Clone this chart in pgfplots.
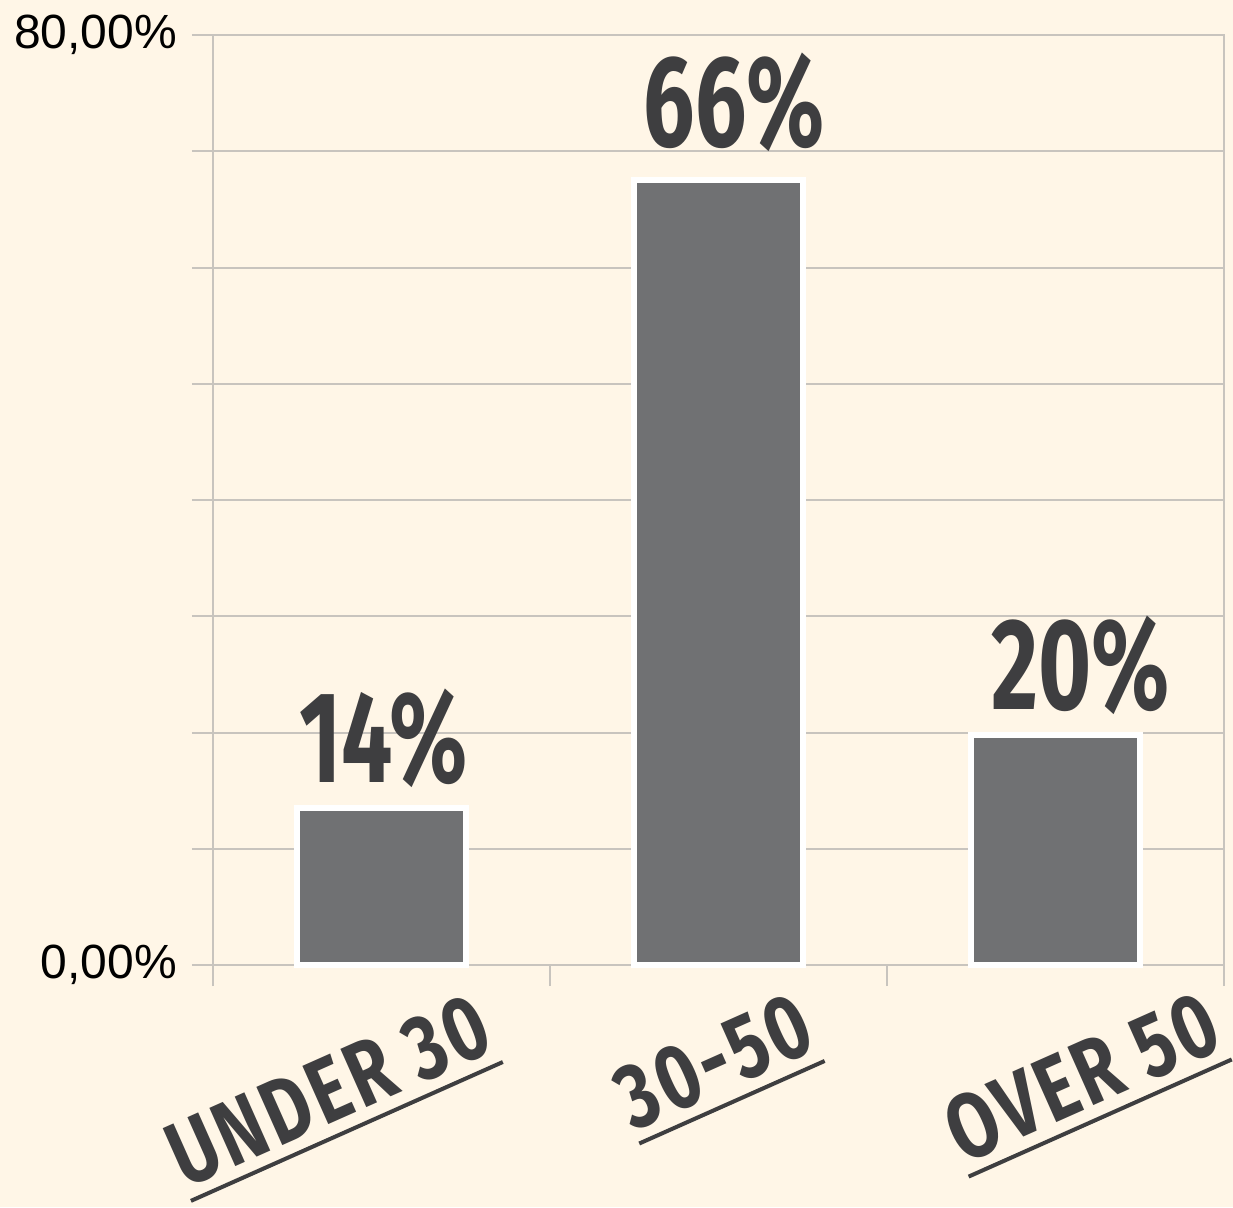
\documentclass[border=0pt]{standalone}
\usepackage{fontspec}
\setmainfont{Liberation Sans}
\newfontfamily\din[FakeStretch=0.70]{Fira Sans}
\newfontfamily\dinx[FakeStretch=0.78, LetterSpace=4]{Fira Sans}
\usepackage{pgfplots}
\pgfplotsset{compat=1.18}

\definecolor{bgcol}{HTML}{FFF6E7}
\definecolor{barcol}{HTML}{707173}
\definecolor{txtcol}{HTML}{3E3E40}
\definecolor{gridcol}{HTML}{C8C4BE}

% underlined label, the rule hangs below the baseline
\newcommand\ulbox[1]{\vtop{\hbox{#1}\kern5pt\hrule height 2pt}}

\begin{document}
\begin{tikzpicture}
\fill[bgcol] (-106.5pt,-121pt) rectangle (510pt,482.5pt);
\useasboundingbox (-106.5pt,-121pt) rectangle (510pt,482.5pt);
\begin{axis}[
  at={(0,0)}, anchor=south west,
  width=505.5pt, height=465pt, scale only axis,
  xmin=-0.5, xmax=2.5, ymin=0, ymax=80,
  clip=false,
  xtick={-0.5,0.5,1.5,2.5}, xticklabels={},
  ytick={0,10,...,80},
  yticklabels={{0,00\%},,,,,,,,{80,00\%}},
  tick pos=left, tick align=outside, major tick length=10.5pt,
  tick style={gridcol, line width=1pt},
  ymajorgrids, grid style={gridcol, line width=1pt},
  axis line style={gridcol, line width=1pt},
  yticklabel style={font=\fontsize{24}{24}\selectfont, text=black, xshift=-4pt},
  /pgf/number format/assume math mode=true,
]
\addplot[ybar, bar width=0.5, fill=barcol, draw=white, line width=3pt]
  coordinates {(0,13.5) (1,67.5) (2,19.8)};

% value labels above the bars
\addplot[draw=none, mark=none, nodes near coords={\pgfplotspointmeta\%},
  point meta=explicit symbolic,
  every node near coord/.append style={anchor=base, inner sep=0pt, text=txtcol,
    font=\din\bfseries\fontsize{65}{65}\selectfont}]
  table[meta=label] {
x y label
0.006 15.66 14
1.047 70.37 66
2.074 22.02 20
};

% rotated, underlined category names
\addplot[draw=none, mark=none, nodes near coords={\ulbox{\pgfplotspointmeta}},
  point meta=explicit symbolic,
  every node near coord/.append style={anchor=south east, rotate=24, inner sep=0pt,
    text=txtcol, font=\dinx\bfseries\fontsize{46}{46}\selectfont}]
  table[meta=label] {
x y label
0.364 -8.52 {UNDER 30}
1.319 -8.43 {30-50}
2.527 -8.30 {OVER 50}
};
\end{axis}
\end{tikzpicture}
\end{document}
